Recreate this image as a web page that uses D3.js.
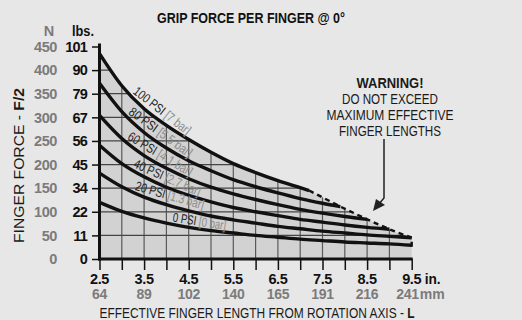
<!DOCTYPE html>
<html>
<head>
<meta charset="utf-8">
<script src="https://cdn.jsdelivr.net/npm/d3@7"></script>
<style>
  html, body { margin: 0; padding: 0; background: #e7e7e7; }
  svg { display: block; }
</style>
</head>
<body>
<svg id="chart" width="522" height="320"></svg>
<script>
// ---- data ----
const pressureLabels = ["100 PSI", "80 PSI", "60 PSI", "40 PSI", "20 PSI", "0 PSI"];
const barLabels = ["[7 bar]", "[5.5 bar]", "[4.1 bar]", "[2.7 bar]", "[1.3 bar]", "[0 bar]"];

// finger force (N) vs effective length (in.); last entry is the max effective length point
const psi100 = [[2.5,435],[3.0,367],[3.5,318],[4.0,283],[4.5,253],[5.0,226],[5.5,202],[6.0,183],[6.5,166],[7.0,151],[7.2,145]];
const psi80  = [[2.5,372],[3.0,312],[3.5,268],[4.0,235],[4.5,208],[5.0,187],[5.5,168],[6.0,153],[6.5,140],[7.0,128],[7.5,118],[7.9,111]];
const psi60  = [[2.5,304],[3.0,255],[3.5,219],[4.0,192],[4.5,170],[5.0,152],[5.5,138],[6.0,126],[6.5,115],[7.0,105],[7.5,97],[8.0,90],[8.5,84]];
const psi40  = [[2.5,241],[3.0,202],[3.5,174],[4.0,152],[4.5,135],[5.0,121],[5.5,109],[6.0,100],[6.5,92],[7.0,84],[7.5,78],[8.0,72],[8.5,67],[9.0,63]];
const psi20  = [[2.5,182],[3.0,153],[3.5,131],[4.0,115],[4.5,102],[5.0,91],[5.5,83],[6.0,76],[6.5,69],[7.0,64],[7.5,59],[8.0,55],[8.5,51],[9.0,48],[9.5,45]];
const psi0   = [[2.5,120],[3.0,101],[3.5,87],[4.0,76],[4.5,67],[5.0,60],[5.5,55],[6.0,50],[6.5,46],[7.0,42],[7.5,39],[8.0,36],[8.5,34],[9.0,32],[9.5,29]];
const seriesList = [psi100, psi80, psi60, psi40, psi20, psi0];

const newtonTicks = [0, 50, 100, 150, 200, 250, 300, 350, 400, 450];
const lbsTicks    = [0, 11, 22, 34, 45, 56, 67, 79, 90, 101];
const inchTicks   = [2.5, 3.5, 4.5, 5.5, 6.5, 7.5, 8.5, 9.5];
const mmTicks     = [64, 89, 102, 140, 165, 191, 216, 241];

// ---- layout ----
const FONT = "'Liberation Sans', Arial, Helvetica, sans-serif";
const svg = d3.select("#chart").style("font-family", FONT);

const x = d3.scaleLinear().domain([2.5, 9.5]).range([99.5, 411.7]);
const y = d3.scaleLinear().domain([0, 450]).range([259, 46.5]);

const line = d3.line().x(d => x(d[0])).y(d => y(d[1])).curve(d3.curveMonotoneX);

// force on a curve at length L (linear between readings)
function forceAt(series, L) {
  const i = Math.max(1, d3.bisector(d => d[0]).left(series, L));
  const a = series[i - 1], b = series[Math.min(i, series.length - 1)];
  const t = b[0] === a[0] ? 0 : (L - a[0]) / (b[0] - a[0]);
  return a[1] + t * (b[1] - a[1]);
}

// maximum-length limit runs through each curve's last point
const limitPts = seriesList.map(s => s[s.length - 1]).sort((a, b) => a[0] - b[0] || b[1] - a[1]);

// shaded operating region: under the top curve and the limit line
const regionPath = line(psi100) +
  limitPts.slice(1).map(p => `L${x(p[0])},${y(p[1])}`).join("") +
  `L${x(9.5)},${y(0)}L${x(2.5)},${y(0)}Z`;

svg.append("defs").append("clipPath").attr("id", "region").append("path").attr("d", regionPath);
svg.append("path").attr("d", regionPath).attr("fill", "#d2d2d2");

// grid inside the region
const grid = svg.append("g").attr("clip-path", "url(#region)");
grid.selectAll("line.v").data(d3.range(3.0, 9.5, 0.5)).join("line")
  .attr("x1", d => x(d)).attr("x2", d => x(d))
  .attr("y1", y(0)).attr("y2", y(450))
  .attr("stroke", "#5a5a5a").attr("stroke-width", 1.2);
grid.selectAll("line.h").data(newtonTicks.filter(v => v > 0)).join("line")
  .attr("x1", x(2.5)).attr("x2", x(9.5))
  .attr("y1", d => y(d)).attr("y2", d => y(d))
  .attr("stroke", "#444").attr("stroke-width", 1.2);

// curves
svg.append("g").selectAll("path").data(seriesList).join("path")
  .attr("d", line)
  .attr("fill", "none").attr("stroke", "#111").attr("stroke-width", 3.4);

// limit line (dashed), carried just past the lowest curve at the right edge
const limitDrawn = limitPts.map((p, i) => i === limitPts.length - 1 ? [p[0], p[1] - 4] : p);
svg.append("path")
  .attr("d", d3.line().x(d => x(d[0])).y(d => y(d[1]))(limitDrawn))
  .attr("fill", "none").attr("stroke", "#111").attr("stroke-width", 2.4)
  .attr("stroke-dasharray", "5,4");

// axes
const axisY = svg.append("g").attr("transform", `translate(${x(2.5)},0)`)
  .call(d3.axisLeft(y).tickValues(newtonTicks).tickSize(7.5).tickFormat(""));
axisY.select(".domain").remove();
axisY.selectAll(".tick line").attr("stroke", "#111").attr("stroke-width", 1.5);
svg.append("line").attr("x1", x(2.5)).attr("x2", x(2.5)).attr("y1", y(0) + 1.5).attr("y2", y(450) - 3)
  .attr("stroke", "#111").attr("stroke-width", 3);

const axisX = svg.append("g").attr("transform", `translate(0,${y(0)})`)
  .call(d3.axisBottom(x).tickValues(d3.range(2.5, 9.51, 0.5)).tickSize(11).tickFormat(""));
axisX.select(".domain").remove();
axisX.selectAll(".tick line").attr("stroke", "#111").attr("stroke-width", 1.5);
svg.append("line").attr("x1", x(2.5) - 1.5).attr("x2", x(9.5) + 1).attr("y1", y(0)).attr("y2", y(0))
  .attr("stroke", "#111").attr("stroke-width", 3);

// y tick labels (N in grey, lbs in black)
const tickFont = 14.5;
svg.append("g").selectAll("text").data(newtonTicks).join("text")
  .attr("x", 57).attr("y", d => y(d)).attr("dy", "0.36em")
  .attr("text-anchor", "end").attr("font-size", tickFont).attr("font-weight", "bold").attr("fill", "#7b7b7b")
  .attr("letter-spacing", -0.4)
  .text(d => d);
svg.append("g").selectAll("text").data(lbsTicks).join("text")
  .attr("x", 87).attr("y", (d, i) => y(newtonTicks[i])).attr("dy", "0.36em")
  .attr("text-anchor", "end").attr("font-size", tickFont).attr("font-weight", "bold").attr("fill", "#111")
  .attr("letter-spacing", -0.8)
  .text(d => d);
svg.append("text").attr("x", 49).attr("y", 31).attr("dy", "0.36em").attr("text-anchor", "middle")
  .attr("font-size", tickFont).attr("font-weight", "bold").attr("fill", "#7b7b7b").text("N");
svg.append("text").attr("x", 83).attr("y", 31).attr("dy", "0.36em").attr("text-anchor", "middle")
  .attr("font-size", tickFont).attr("font-weight", "bold").attr("fill", "#111")
  .attr("textLength", 22).attr("lengthAdjust", "spacingAndGlyphs").text("lbs.");

// x tick labels (inches in black, mm in grey)
svg.append("g").selectAll("text").data(inchTicks).join("text")
  .attr("x", d => x(d)).attr("y", 279).attr("dy", "0.36em")
  .attr("text-anchor", "middle").attr("font-size", tickFont).attr("font-weight", "bold").attr("fill", "#111")
  .attr("letter-spacing", -0.4)
  .text(d => d.toFixed(1));
svg.append("g").selectAll("text").data(mmTicks).join("text")
  .attr("x", (d, i) => i === mmTicks.length - 1 ? x(inchTicks[i]) + 7 : x(inchTicks[i]))
  .attr("y", 294).attr("dy", "0.36em")
  .attr("text-anchor", (d, i) => i === mmTicks.length - 1 ? "end" : "middle")
  .attr("font-size", 14).attr("font-weight", "bold").attr("fill", "#7b7b7b")
  .attr("letter-spacing", -0.3)
  .text(d => d);
svg.append("text").attr("x", x(9.5) + 13).attr("y", 279).attr("dy", "0.36em")
  .attr("font-size", tickFont).attr("font-weight", "bold").attr("fill", "#111")
  .attr("textLength", 16).attr("lengthAdjust", "spacingAndGlyphs").text("in.");
svg.append("text").attr("x", x(9.5) + 8).attr("y", 294).attr("dy", "0.36em")
  .attr("font-size", 14).attr("font-weight", "bold").attr("fill", "#7b7b7b")
  .attr("textLength", 25).attr("lengthAdjust", "spacingAndGlyphs").text("mm");

// axis titles (condensed to their printed widths)
const xt = svg.append("text").attr("x", x(2.5)).attr("y", 317.5)
  .attr("font-size", 14).attr("fill", "#1a1a1a")
  .attr("textLength", 315).attr("lengthAdjust", "spacingAndGlyphs");
xt.append("tspan").text("EFFECTIVE FINGER LENGTH FROM ROTATION AXIS - ");
xt.append("tspan").attr("font-weight", "bold").text("L");

const yt = svg.append("text").attr("transform", "translate(18,165.5) rotate(-90)").attr("dy", "0.36em")
  .attr("text-anchor", "middle").attr("font-size", 15.5).attr("fill", "#1a1a1a")
  .attr("textLength", 155).attr("lengthAdjust", "spacingAndGlyphs");
yt.append("tspan").text("FINGER FORCE - ");
yt.append("tspan").attr("font-weight", "bold").text("F/2");

// title
svg.append("text").attr("x", 251).attr("y", 17.5).attr("dy", "0.36em").attr("text-anchor", "middle")
  .attr("font-size", 15).attr("font-weight", "bold").attr("fill", "#111")
  .attr("textLength", 188).attr("lengthAdjust", "spacingAndGlyphs")
  .text("GRIP FORCE PER FINGER @ 0°");

// curve labels: each sits on top of its own curve, starting at length L
const labelPlaces = [
  { L: 3.20, angle: 38, len: 69 },
  { L: 3.10, angle: 36, len: 75 },
  { L: 3.08, angle: 31, len: 73 },
  { L: 3.22, angle: 24, len: 72 },
  { L: 3.27, angle: 16, len: 71 },
  { L: 4.12, angle: 9,  len: 54 }
];
const lbl = svg.append("g").selectAll("text").data(labelPlaces).join("text")
  .attr("transform", (d, i) => `translate(${x(d.L)},${y(forceAt(seriesList[i], d.L))}) rotate(${d.angle})`)
  .attr("x", 0).attr("y", -2.6).attr("font-size", 13)
  .attr("textLength", d => d.len).attr("lengthAdjust", "spacingAndGlyphs");
lbl.append("tspan").attr("fill", "#222").text((d, i) => pressureLabels[i] + " ");
lbl.append("tspan").attr("fill", "#8c8c8c").text((d, i) => barLabels[i]);

// warning note with arrow
const warnLines = [["WARNING!", true, 67], ["DO NOT EXCEED", false, 96], ["MAXIMUM EFFECTIVE", false, 127], ["FINGER LENGTHS", false, 102]];
const warn = svg.append("g").attr("font-size", 15.5).attr("text-anchor", "middle").attr("fill", "#1a1a1a");
warn.selectAll("text").data(warnLines).join("text")
  .attr("x", 390).attr("y", (d, i) => 82 + i * 16).attr("dy", "0.36em")
  .attr("font-weight", d => d[1] ? "bold" : "normal")
  .attr("textLength", d => d[2]).attr("lengthAdjust", "spacingAndGlyphs")
  .text(d => d[0]);
svg.append("path").attr("d", "M384,139V198L378,205")
  .attr("fill", "none").attr("stroke", "#222").attr("stroke-width", 1.5);
svg.append("path").attr("d", "M373,211L376,199L385,205Z").attr("fill", "#222");
</script>
</body>
</html>
